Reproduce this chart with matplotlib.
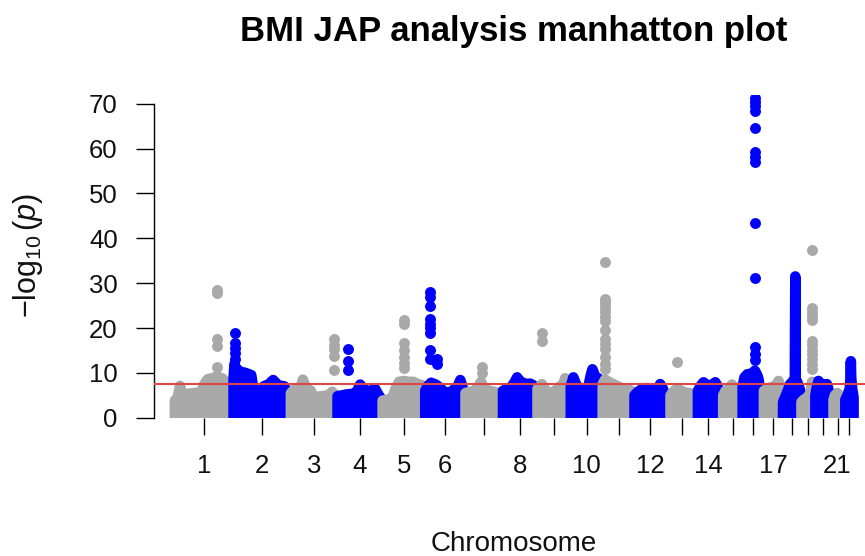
import numpy as np
import matplotlib.pyplot as plt

plt.rcParams['font.family'] = ['Liberation Sans', 'DejaVu Sans']
plt.rcParams['mathtext.fontset'] = 'custom'
plt.rcParams['mathtext.rm'] = 'Liberation Sans'
plt.rcParams['mathtext.it'] = 'Liberation Sans:italic'

# chromosome sizes (Mb) and the labels R managed to fit under the ticks
chrom_names = [str(i) for i in range(1, 23)]
chrom_len = [249.3, 243.2, 198.0, 191.2, 180.9, 171.1, 159.1, 146.4, 141.2, 135.5, 135.0,
             133.9, 115.2, 107.3, 102.5, 90.4, 81.2, 78.1, 59.1, 63.0, 48.1, 51.3]
shown_labels = ['1', '2', '3', '4', '5', '6', '8', '10', '12', '14', '17', '21']

# upper edge of the dense SNP cloud per chromosome: position (Mb), -log10(p)
env_pos = [
    [0, 12, 22, 32, 50, 80, 110, 125, 140, 160, 179, 200, 215, 235, 249],
    [0, 4, 10, 25, 50, 75, 85, 100, 118, 128, 150, 168, 190, 215, 230, 243],
    [0, 15, 40, 51, 65, 85, 95, 130, 160, 175, 190, 198],
    [0, 20, 40, 60, 80, 96, 110, 130, 145, 159, 175, 191],
    [0, 20, 40, 55, 70, 92, 110, 130, 150, 170, 181],
    [0, 10, 25, 45, 60, 80, 100, 120, 140, 149, 160, 171],
    [0, 20, 40, 55, 66, 80, 100, 120, 140, 159],
    [0, 15, 35, 50, 60, 75, 95, 115, 130, 140, 146],
    [0, 10, 19, 35, 55, 75, 95, 110, 117, 130, 141],
    [0, 11, 22, 40, 60, 75, 85, 92, 105, 117, 128, 135],
    [0, 10, 25, 45, 65, 85, 105, 120, 135],
    [0, 15, 35, 55, 75, 95, 109, 120, 134],
    [19, 30, 47, 65, 85, 100, 115],
    [20, 30, 44, 60, 80, 94, 104, 107],
    [20, 30, 45, 57, 70, 85, 102],
    [0, 8, 20, 40, 52, 62, 68, 75, 90],
    [0, 15, 30, 45, 55, 62, 72, 81],
    [0, 8, 20, 30, 40, 50, 52, 54, 60, 70, 78],
    [0, 10, 25, 38, 45, 52, 59],
    [0, 5, 13, 25, 40, 49, 57, 63],
    [14, 20, 30, 40, 48],
    [16, 25, 35, 38, 39.5, 41, 45, 51],
]
env_val = [
    [3.8, 4.5, 7.1, 5.0, 5.3, 5.5, 5.6, 7.5, 8.6, 8.8, 9.2, 8.8, 8.0, 6.0, 5.5],
    [9.0, 12.0, 11.0, 10.3, 10.0, 9.5, 6.0, 5.6, 5.6, 7.0, 7.5, 8.4, 7.2, 7.0, 5.5, 4.5],
    [5.5, 6.3, 6.5, 8.5, 6.5, 6.0, 4.6, 4.8, 5.0, 5.8, 5.0, 4.0],
    [4.8, 5.0, 5.2, 5.3, 5.6, 7.4, 6.3, 6.0, 6.0, 6.5, 5.0, 3.8],
    [3.8, 4.0, 4.3, 6.5, 8.0, 8.2, 8.0, 8.0, 7.5, 7.2, 6.5],
    [6.0, 7.0, 7.8, 7.4, 6.8, 5.8, 5.5, 6.2, 7.2, 8.4, 6.5, 5.5],
    [5.5, 5.8, 6.0, 7.0, 8.0, 6.5, 6.0, 5.8, 5.5, 4.8],
    [6.0, 6.4, 6.8, 8.0, 9.0, 8.0, 7.5, 7.6, 7.2, 6.0, 5.0],
    [6.5, 7.0, 7.5, 6.0, 5.5, 6.0, 7.0, 7.5, 8.8, 7.0, 6.0],
    [7.0, 9.0, 7.5, 6.2, 6.2, 7.0, 9.5, 10.8, 9.0, 8.8, 6.5, 5.5],
    [7.5, 8.5, 8.0, 7.5, 7.0, 6.5, 6.5, 6.0, 5.5],
    [5.0, 5.8, 6.5, 6.6, 6.2, 6.0, 7.5, 6.5, 4.5],
    [5.0, 5.8, 6.5, 6.0, 5.5, 5.5, 4.5],
    [6.0, 7.0, 7.9, 7.2, 7.3, 7.9, 7.0, 6.0],
    [5.0, 6.0, 6.5, 7.4, 6.5, 6.0, 5.0],
    [7.0, 9.0, 9.7, 9.8, 10.5, 9.5, 8.5, 5.5, 4.5],
    [6.0, 6.5, 6.8, 7.0, 7.6, 8.2, 6.5, 5.0],
    [3.5, 4.5, 6.0, 7.5, 8.0, 8.5, 31.5, 8.5, 8.0, 6.5, 5.0],
    [3.5, 4.0, 4.5, 5.5, 8.0, 6.0, 5.0],
    [5.0, 6.5, 8.2, 7.5, 7.3, 7.5, 6.0, 4.5],
    [4.0, 5.0, 5.5, 5.0, 4.0],
    [4.0, 5.0, 6.5, 9.0, 12.6, 9.0, 6.5, 4.5],
]

# isolated top hits: chromosome, position (Mb), -log10(p) of the stacked points
peak_chrom = [1, 2, 3, 4, 5, 6, 6, 7, 9, 11, 13, 16, 19]
peak_pos = [179, 4, 181, 44, 92, 19, 52, 68, 19, 11, 47, 53, 45]
peak_vals = [
    [28.4, 27.7, 17.6, 16.0, 11.3],
    [19.0, 16.6, 15.5, 14.4, 13.0],
    [17.6, 16.2, 15.3, 13.8, 10.6],
    [15.4, 12.6, 10.6],
    [21.8, 21.0, 16.6, 15.1, 13.6, 12.2, 11.0],
    [28.1, 27.0, 25.0, 22.0, 21.0, 20.0, 19.0, 15.1, 13.2],
    [13.2, 12.0],
    [11.2, 10.0],
    [19.0, 17.2],
    [34.8, 26.5, 26.0, 25.3, 24.5, 23.5, 22.5, 21.5, 19.5, 17.5, 16.5, 15.3, 13.5, 12.0, 10.8],
    [12.4],
    [71.2, 70.3, 69.4, 68.3, 64.6, 59.2, 58.2, 57.0, 43.5, 31.1, 15.7, 14.3, 12.9],
    [37.3, 24.5, 23.6, 22.6, 21.7, 17.2, 16.2, 15.2, 14.2, 13.0, 12.0, 10.8],
]

genomewide = 7.6
colors = ['#A9A9A9', '#0000FF']
dot_lw = 7.6   # edge width ~ point diameter
dot_s = 62

offsets = np.concatenate([[0], np.cumsum(chrom_len)[:-1]])
total = sum(chrom_len)

fig = plt.figure(figsize=(8.65, 5.56), dpi=100)
ax = fig.add_axes([0.1786, 0.2487, 0.8318, 0.5808])

ticks = []
for i in range(22):
    c = colors[i % 2]
    xs = offsets[i] + np.array(env_pos[i])
    ys = np.array(env_val[i])
    ax.fill(np.r_[xs[0], xs, xs[-1]], np.r_[0, ys, 0], fc=c, ec=c,
            lw=dot_lw, joinstyle='round', zorder=2 + i)
    for ch, p, vals in zip(peak_chrom, peak_pos, peak_vals):
        if ch == i + 1:
            ax.scatter([offsets[i] + p] * len(vals), vals, s=dot_s, c=c,
                       lw=0, zorder=2 + i)
    ticks.append(offsets[i] + (env_pos[i][0] + env_pos[i][-1]) / 2)

ax.axhline(genomewide, color='#DC4848', lw=1.5, zorder=40)

ax.set_xlim(-0.03 * total, 1.03 * total)
ax.set_ylim(0, 72)
ax.set_yticks(range(0, 71, 10))
ax.set_xticks(ticks)
ax.set_xticklabels([n if n in shown_labels else '' for n in chrom_names])

for s in ['top', 'right', 'bottom']:
    ax.spines[s].set_visible(False)
ax.spines['left'].set_bounds(0, 70)
ax.spines['left'].set_linewidth(1)
ax.tick_params(axis='y', length=13, width=1, pad=13.5, labelsize=18.5, labelcolor='#111111')
ax.tick_params(axis='x', length=12.5, width=1, pad=13.5, labelsize=18.5, labelcolor='#111111')

fig.text(514 / 865, 1 - 41 / 556, 'BMI JAP analysis manhatton plot',
         ha='center', va='baseline', fontsize=25, fontweight='bold')
fig.text(514 / 865, 1 - 551 / 556, 'Chromosome', ha='center', va='baseline',
         fontsize=20, color='#111111')
fig.text(28 / 865, 1 - 255 / 556, r'$-\log_{10}(p)$', rotation=90,
         ha='center', va='center', fontsize=22, color='#111111')

fig.savefig('out.png', dpi=100)
